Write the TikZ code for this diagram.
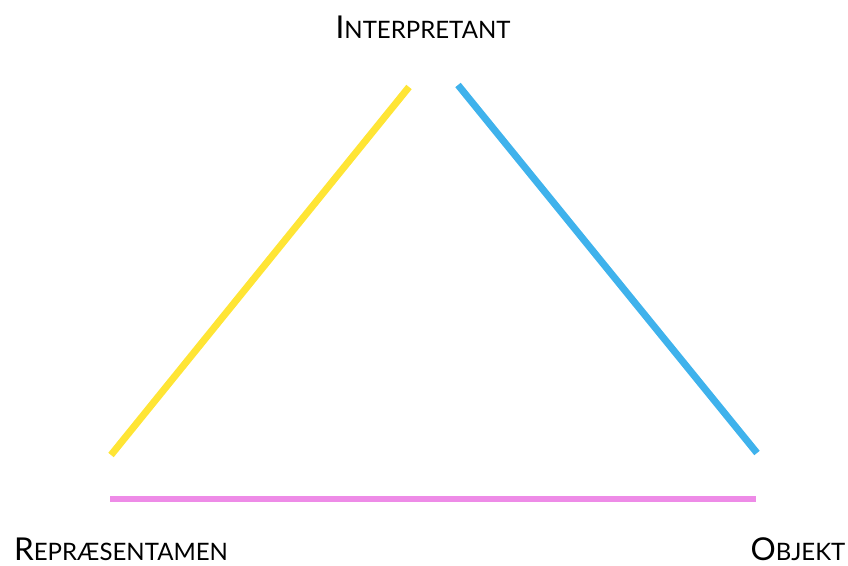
\documentclass[tikz,border=0pt]{standalone}
\usepackage{fontspec}
\setmainfont{Lato}
\usepackage{tikz}
\usetikzlibrary{positioning}
\definecolor{signyellow}{HTML}{FFE535}
\definecolor{signblue}{HTML}{3FB2EC}
\definecolor{signpink}{HTML}{EE8BE7}
\newcommand{\signsc}[2]{{\fontsize{31.5}{32}\selectfont #1}{\fontsize{24}{26}\selectfont #2}}
\tikzset{
  label/.style ={inner sep=0pt,anchor=base,text=black,text depth=0pt},
  leg/.style   ={line width=7pt,line cap=butt},
  base/.style  ={line width=6pt,line cap=butt,draw=signpink}
}
\begin{document}
\begin{tikzpicture}[x=1pt,y=-1pt]
    \useasboundingbox (0,0) rectangle (848,565);
    % labels
    \node[label] (interp) at (423,38) {\signsc{I}{NTERPRETANT}};
    \node[label] (repr) at (121,560) {\signsc{R}{EPRÆSENTAMEN}};
    \node[label] (obj) at (798,560) {\signsc{O}{BJEKT}};
    % line ends
    \coordinate (yl) at (111,455);
    \coordinate (yt) at (409,87);
    \coordinate (bt) at (458,85);
    \coordinate (br) at (757,453);
    \coordinate (pl) at (110,499);
    \coordinate (pr) at (756,499);
    \draw[leg,draw=signyellow] (yl) -- (yt);
    \draw[leg,draw=signblue] (bt) -- (br);
    \draw[base] (pl) -- (pr);
  \end{tikzpicture}
\end{document}
